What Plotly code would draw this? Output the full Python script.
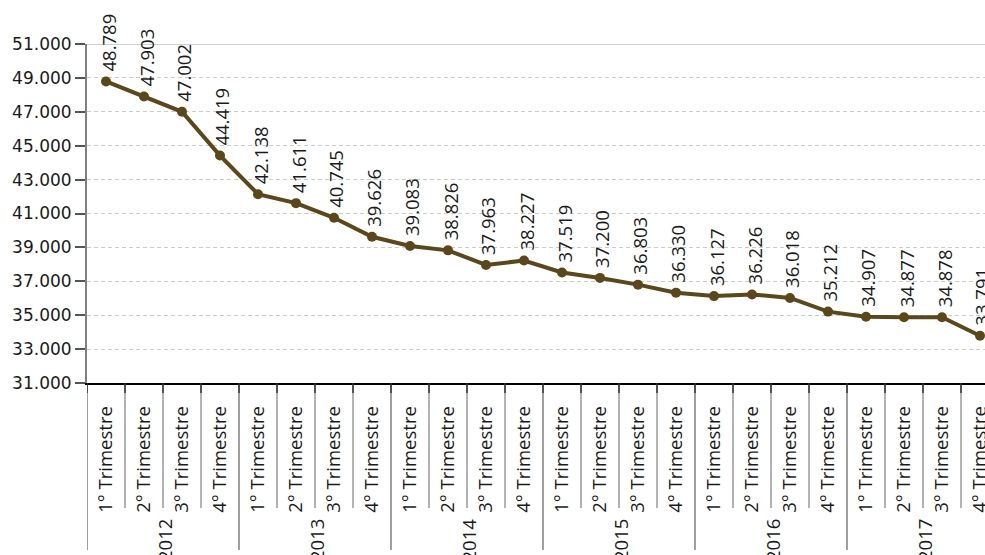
import plotly.graph_objects as go

years = ["2012", "2013", "2014", "2015", "2016", "2017"]
quarters = ["1° Trimestre", "2° Trimestre", "3° Trimestre", "4° Trimestre"]
values = [48789, 47903, 47002, 44419,
          42138, 41611, 40745, 39626,
          39083, 38826, 37963, 38227,
          37519, 37200, 36803, 36330,
          36127, 36226, 36018, 35212,
          34907, 34877, 34878, 33791]
y_ticks = [31000, 33000, 35000, 37000, 39000, 41000, 43000, 45000, 47000, 49000, 51000]

LINE_COLOR = "#5b4717"
FONT = "Open Sans"

n = len(values)
xs = list(range(n))
qlabels = [quarters[i % 4] for i in range(n)]

def fmt(v):
    return f"{v:,}".replace(",", ".")

fig = go.Figure()
fig.add_trace(go.Scatter(
    x=xs, y=values, mode="lines+markers",
    line=dict(color=LINE_COLOR, width=4),
    marker=dict(color=LINE_COLOR, size=10),
    hoverinfo="skip", showlegend=False, cliponaxis=False,
))

annotations = []
for i, v in enumerate(values):
    annotations.append(dict(
        x=i, y=v, xref="x", yref="y", text=fmt(v), showarrow=False,
        textangle=-90, yanchor="bottom", xanchor="center", yshift=8, xshift=2,
        font=dict(family=FONT, size=18.5, color="#1a1a1a"),
    ))
for k, yr in enumerate(years):
    annotations.append(dict(
        x=4 * k + 1.5, y=-(517 - 383) / 339, xref="x", yref="paper", text=yr,
        showarrow=False, textangle=-90, yanchor="top", xanchor="center", xshift=1,
        font=dict(family=FONT, size=18.5, color="#1a1a1a"),
    ))

shapes = []
# top border line
shapes.append(dict(type="line", xref="paper", yref="y", x0=0, x1=1,
                   y0=y_ticks[-1], y1=y_ticks[-1], line=dict(color="#c0c0c0", width=1.5)))
for b in range(n + 1):
    xb = b - 0.5
    if b % 4 == 0:
        y1 = -(550 - 383) / 339
        col = "#808080"
    else:
        y1 = -(508 - 383) / 339
        col = "#9a9a9a"
    shapes.append(dict(type="line", xref="x", yref="paper", x0=xb, x1=xb,
                       y0=0, y1=y1, line=dict(color=col, width=1.5), layer="below"))
    shapes.append(dict(type="line", xref="x", yref="paper", x0=xb, x1=xb,
                       y0=0, y1=-10 / 339, line=dict(color="#333333", width=1.5)))

fig.update_layout(
    width=985, height=555,
    margin=dict(l=87, r=0, t=44, b=172),
    paper_bgcolor="white", plot_bgcolor="white",
    font=dict(family=FONT, color="#1a1a1a"),
    annotations=annotations, shapes=shapes,
    xaxis=dict(
        range=[-0.5, -0.5 + 898 / 38], tickmode="array", tickvals=xs, ticktext=qlabels,
        tickangle=-90, ticks="outside", ticklen=14, tickcolor="rgba(0,0,0,0)",
        showgrid=False, zeroline=False, showline=True, linecolor="#000000", linewidth=1.5,
        tickfont=dict(family=FONT, size=18.5, color="#1a1a1a"), automargin=False,
        ticklabeloverflow="allow",
    ),
    yaxis=dict(
        range=[31000, 51000], tickmode="array", tickvals=y_ticks,
        ticktext=[fmt(t) for t in y_ticks],
        ticks="outside", ticklen=10, tickcolor="#555555", tickwidth=1.5,
        showgrid=True, gridcolor="#cccccc", griddash="4px,3px", gridwidth=1,
        zeroline=False, showline=True, linecolor="#808080", linewidth=2,
        tickfont=dict(family="DejaVu Sans", size=17, color="#1a1a1a"), automargin=False,
    ),
)

fig.write_html("out.html", config={"displayModeBar": False},
               post_script="document.body.style.margin='0';document.body.style.overflow='hidden';")
